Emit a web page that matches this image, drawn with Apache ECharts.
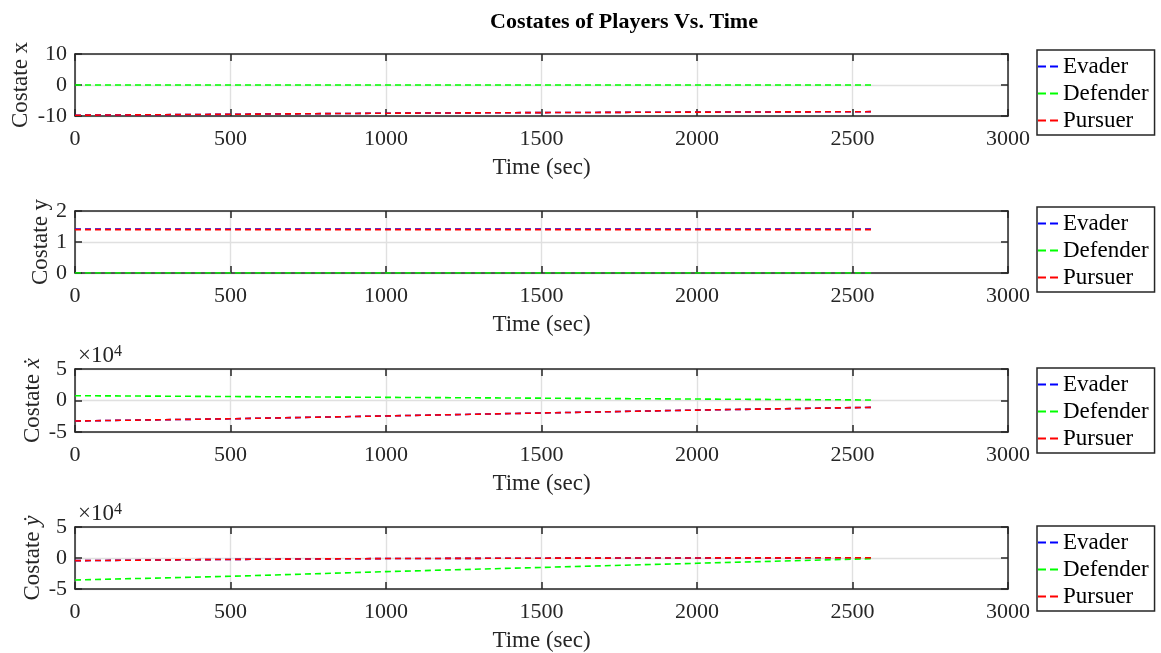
<!DOCTYPE html>
<html>
<head>
<meta charset="utf-8">
<script src="https://cdn.jsdelivr.net/npm/echarts@6/dist/echarts.min.js"></script>
<style>html,body{margin:0;padding:0;background:#fff}#c{width:1161px;height:653px}</style>
</head>
<body>
<div id="c"></div>
<script>
const timeSec = [0, 500, 1000, 1500, 2000, 2570];
const seriesNames = ['Evader', 'Defender', 'Pursuer'];
// Costate x
const evaderX = [-9.75, -9.45, -9.1, -8.9, -8.75, -8.6];
const defenderX = [0, 0, 0, 0, 0, 0];
const pursuerX = [-9.75, -9.45, -9.1, -8.9, -8.75, -8.6];
// Costate y
const evaderY = [1.42, 1.42, 1.42, 1.42, 1.42, 1.42];
const defenderY = [0, 0, 0, 0, 0, 0];
const pursuerY = [1.40, 1.40, 1.40, 1.40, 1.40, 1.40];
// Costate x-dot
const evaderXd = [-32500, -29000, -24500, -19800, -15200, -10800];
const defenderXd = [7600, 6300, 5000, 3700, 2300, 800];
const pursuerXd = [-32500, -29000, -24500, -19800, -15200, -10800];
// Costate y-dot
const evaderYd = [-4300, -2300, -900, -300, 100, 400];
const defenderYd = [-35500, -29500, -22000, -15200, -8500, -1000];
const pursuerYd = [-4300, -2300, -900, -300, 100, 400];
// ticks
const xTicks = {min: 0, max: 3000, interval: 500};
const yRanges = [
  {min: -10, max: 10, interval: 10},
  {min: 0, max: 2, interval: 1},
  {min: -50000, max: 50000, interval: 50000},
  {min: -50000, max: 50000, interval: 50000}
];

const FONT = 'Liberation Serif';
const TXT = '#262626';
const colors = ['#0000ff', '#00ff00', '#ff0000'];
const gridTops = [54, 211, 369, 527];
const gridHeights = [62, 62, 63, 62];
const legendTops = [50, 207, 368, 526];
const yNames = [
  '{a|Costate x}',
  '{a|Costate y}',
  '{a|Costate }{b|ẋ}',
  '{a|Costate }{b|ẏ}'
];
const yNameGaps = [43, 23, 31, 31];
const dataSets = [
  [evaderX, defenderX, pursuerX],
  [evaderY, defenderY, pursuerY],
  [evaderXd, defenderXd, pursuerXd],
  [evaderYd, defenderYd, pursuerYd]
];

const axisCol = '#262626';
const grid = [], xAxis = [], yAxis = [], series = [], legend = [];
for (let i = 0; i < 4; i++) {
  grid.push({left: 75, right: 153, top: gridTops[i], height: gridHeights[i], containLabel: false, outerBoundsMode: 'none'});
  xAxis.push({
    type: 'value', gridIndex: i, min: xTicks.min, max: xTicks.max, interval: xTicks.interval,
    name: 'Time (sec)', nameLocation: 'middle', nameGap: 40, nameMoveOverlap: false,
    nameTextStyle: {fontFamily: FONT, fontSize: 23, color: TXT},
    axisLine: {show: true, onZero: false, lineStyle: {color: axisCol, width: 1.5}},
    axisTick: {show: true, inside: true, length: 7, lineStyle: {color: axisCol, width: 1.5}},
    axisLabel: {fontFamily: FONT, fontSize: 22, color: TXT, margin: 12, formatter: v => String(v)},
    splitLine: {show: true, lineStyle: {color: '#e0e0e0', width: 1.4}}
  });
  xAxis.push({
    type: 'value', gridIndex: i, position: 'top', min: xTicks.min, max: xTicks.max, interval: xTicks.interval,
    axisLine: {show: true, onZero: false, lineStyle: {color: axisCol, width: 1.5}},
    axisTick: {show: true, inside: true, length: 7, lineStyle: {color: axisCol, width: 1.5}},
    axisLabel: {show: false}, splitLine: {show: false}
  });
  const yr = yRanges[i];
  yAxis.push({
    type: 'value', gridIndex: i, min: yr.min, max: yr.max, interval: yr.interval,
    name: yNames[i], nameLocation: 'middle', nameGap: yNameGaps[i], nameRotate: 90, nameMoveOverlap: false,
    nameTextStyle: {fontFamily: FONT, fontSize: 23, color: TXT,
      rich: {a: {fontFamily: FONT, fontSize: 23, color: TXT},
             b: {fontFamily: FONT, fontSize: 23, fontStyle: 'italic', color: TXT}}},
    axisLine: {show: true, onZero: false, lineStyle: {color: axisCol, width: 1.5}},
    axisTick: {show: true, inside: true, length: 7, lineStyle: {color: axisCol, width: 1.5}},
    axisLabel: {fontFamily: FONT, fontSize: 22, color: TXT, margin: 8,
      formatter: i >= 2 ? (v => String(v / 10000)) : (v => String(v))},
    splitLine: {show: true, lineStyle: {color: '#e0e0e0', width: 1.4}}
  });
  yAxis.push({
    type: 'value', gridIndex: i, position: 'right', min: yr.min, max: yr.max, interval: yr.interval,
    axisLine: {show: true, onZero: false, lineStyle: {color: axisCol, width: 1.5}},
    axisTick: {show: true, inside: true, length: 7, lineStyle: {color: axisCol, width: 1.5}},
    axisLabel: {show: false}, splitLine: {show: false}
  });
  for (let s = 0; s < 3; s++) {
    series.push({
      name: seriesNames[s], type: 'line', xAxisIndex: 2 * i, yAxisIndex: 2 * i,
      data: timeSec.map((t, k) => [t, dataSets[i][s][k]]),
      symbol: 'none', animation: false, silent: true,
      lineStyle: {color: colors[s], width: 1.6, type: [6, 4]},
      itemStyle: {color: colors[s]}
    });
  }
  legend.push({
    orient: 'vertical', left: 1037, top: legendTops[i],
    data: seriesNames.map(n => ({name: n, icon: 'path://M0,0H8V2H0Z M12,0H20V2H12Z'})),
    itemWidth: 20, itemHeight: 2, itemGap: 4,
    padding: [5, 6, 3, 1], borderColor: '#262626', borderWidth: 1.5, backgroundColor: '#fff',
    textStyle: {fontFamily: FONT, fontSize: 23, color: '#000'},
    selectedMode: false
  });
}

const chart = echarts.init(document.getElementById('c'), null, {renderer: 'canvas'});
chart.setOption({
  animation: false,
  backgroundColor: '#fff',
  title: {text: 'Costates of Players Vs. Time', left: 619, top: 6, textAlign: 'center',
    textStyle: {fontFamily: FONT, fontSize: 22, fontWeight: 'bold', color: '#000'}},
  grid, xAxis, yAxis, series, legend,
  graphic: [
    {type: 'text', left: 78, top: 344, style: {text: '×10{s|4}', rich: {s: {fontSize: 16, verticalAlign: 'top', fontFamily: FONT, fill: TXT}}, font: '23px "Liberation Serif"', fill: TXT}},
    {type: 'text', left: 78, top: 502, style: {text: '×10{s|4}', rich: {s: {fontSize: 16, verticalAlign: 'top', fontFamily: FONT, fill: TXT}}, font: '23px "Liberation Serif"', fill: TXT}}
  ]
});
</script>
</body>
</html>
